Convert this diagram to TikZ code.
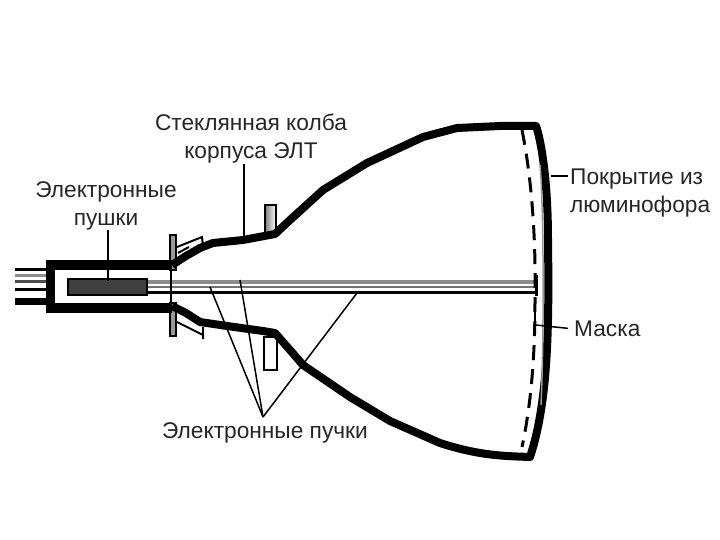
\documentclass[tikz,border=0pt]{standalone}
\usepackage{fontspec}
\setmainfont{Liberation Sans}
\usetikzlibrary{calc,positioning}
\tikzset{
  glass/.style={line width=8pt, line join=round},
  plate/.style={draw=black, line width=2pt, inner sep=0pt},
  lead/.style={draw=black, line width=1.5pt},
  pin/.style={line width=3.5pt},
  lbl/.style={font=\fontsize{22.7}{28}\selectfont, align=center, text=black!85, inner sep=0pt},
}
\begin{document}
\begin{tikzpicture}[x=1pt,y=-1pt]
  \useasboundingbox (0,0) rectangle (720,540);

  % pins
  \draw[pin] (15,269.5) -- (46,269.5);
  \draw[pin, draw=black!45] (15,275.5) -- (46,275.5);
  \draw[pin, draw=black!70] (15,281.5) -- (46,281.5);
  \draw[pin] (15,289.5) -- (46,289.5);
  \draw[line width=7pt] (15,301) -- (46,301);

  % beams
  \draw[line width=3.5pt, draw=black!45] (148,282) -- (535,282);
  \draw[line width=2.5pt, draw=black!55] (148,287) -- (535,287);
  \draw[line width=3pt] (148,292) -- (535,292);
  \draw[line width=3pt] (536,275) -- (536,296);
  \draw[line width=1.5pt] (171,270) -- (171,303);

  % flanges
  \node[plate, fill=black!40, minimum width=6pt, minimum height=35pt] (flangetop) at (173,252.5) {};
  \node[plate, fill=black!40, minimum width=6pt, minimum height=33pt] (flangebot) at (173,319.5) {};
  \draw[line width=2pt] (177,247) -- (202,237) -- (203,246);
  \draw[line width=2pt] (178,253) -- (189,247);
  \draw[line width=2pt] (177,322) -- (203,335) -- (203,339);
  \draw[line width=2pt] (203,327) -- (203,335);

  % deflection plates
  \node[plate, left color=black!50, right color=white, minimum width=11pt, minimum height=28pt] (platetop) at (270.5,219) {};
  \node[plate, fill=white, minimum width=13pt, minimum height=33pt] (platebot) at (270,353) {};

  % gun
  \draw[line width=9.5pt, line join=miter] (172,265) -- (50.5,265) -- (50.5,308) -- (172,308);
  \node[draw=black, line width=2pt, fill=black!75, minimum width=79pt, minimum height=16pt, inner sep=0pt] (gun) at (107.5,287) {};

  % envelope
  \draw[glass] (172,265) -- (186,256) -- (200,248) -- (213,243) -- (243,240) -- (275,234)
    -- (290,220) -- (323,190) -- (367,163) -- (423,137) -- (457,128) -- (500,126) -- (536,126)
    .. controls (541,140) and (548,180) .. (548,240) .. controls (549,320) and (549,400) .. (530,457)
    .. controls (505,456) and (480,456) .. (440,443) -- (390,421) -- (350,397) -- (303,365)
    -- (290,350) -- (275,333) -- (263,331) -- (227,326) -- (200,322) -- (186,313) -- (172,306);
  \draw[line width=1.5pt, draw=black!40] (540,165) .. controls (544,210) and (544,340) .. (541,405);

  % mask
  \draw[line width=3pt, dash pattern=on 15pt off 9pt] (522,130) .. controls (532,180) and (536,240) .. (535,300)
    .. controls (535,350) and (532,400) .. (522,447);
  \draw[line width=2.5pt] (535,310) -- (535,335);

  % labels
  \node[lbl] (tubelbl) at (251,139) {Стеклянная колба\\корпуса ЭЛТ};
  \node[lbl] (gunlbl) at (106,206) {Электронные\\пушки};
  \node[lbl, align=left, anchor=west] (coatlbl) at (570,193) {Покрытие из\\люминофора};
  \node[lbl, anchor=west] (masklbl) at (574,329) {Маска};
  \node[lbl] (beamlbl) at (265,433) {Электронные пучки};

  \coordinate (tubeend) at (244,238);
  \coordinate (gunend) at (108,281);
  \coordinate (coatend) at (551,176);
  \coordinate (maskend) at (536,325);
  \coordinate (beama) at (210,287);
  \coordinate (beamb) at (240,280);
  \coordinate (beamc) at (357,293);
  \coordinate (beamhub) at (263,417);

  \draw[lead] (tubeend |- tubelbl.south) -- (tubeend);
  \draw[lead] (gunend |- gunlbl.south) -- (gunend);
  \draw[lead, shorten <=2pt] (coatlbl.west |- coatend) -- (coatend);
  \draw[lead, shorten <=6pt] (masklbl.west) -- (maskend);
  \draw[lead] (beamhub) -- (beama);
  \draw[lead] (beamhub) -- (beamb);
  \draw[lead] (beamhub) -- (beamc);
\end{tikzpicture}
\end{document}
